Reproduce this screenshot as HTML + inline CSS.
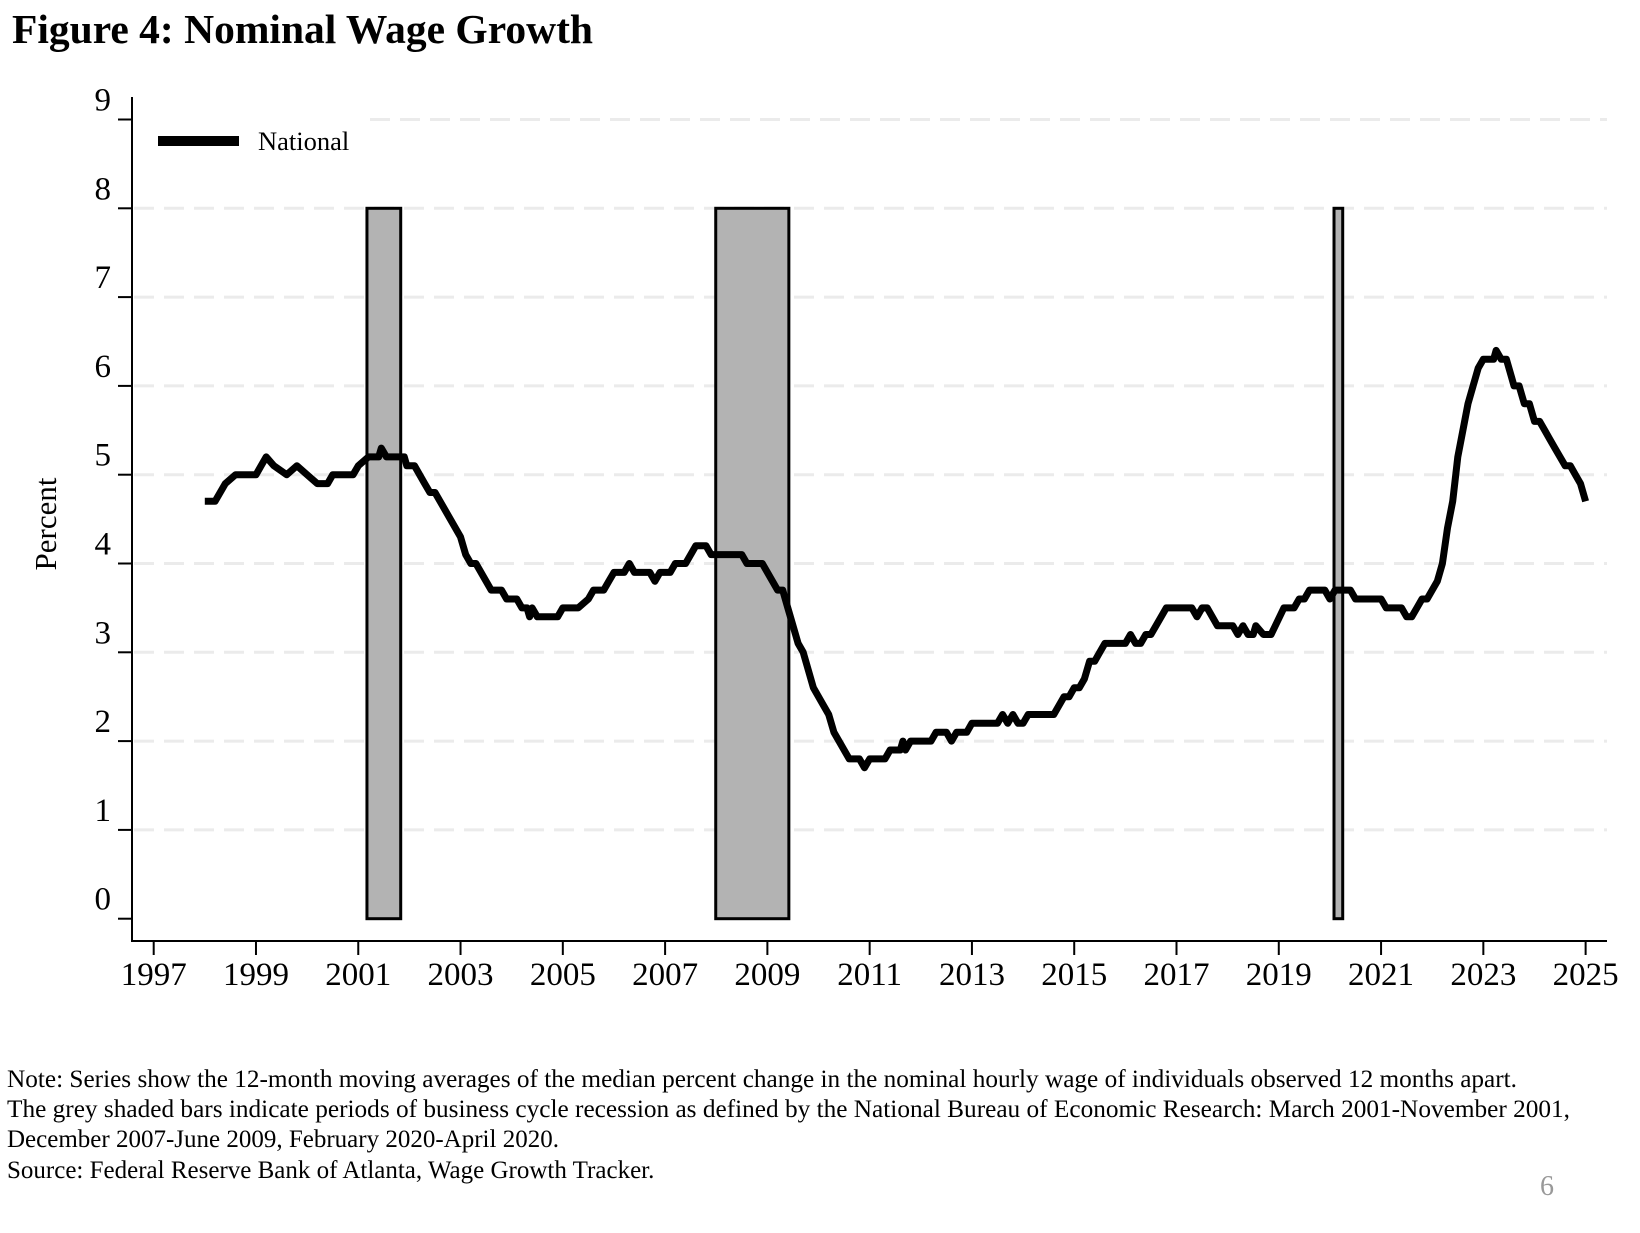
<!DOCTYPE html>
<html><head><meta charset="utf-8"><style>
body{margin:0;background:#fff;width:1640px;height:1228px;overflow:hidden;}
svg text{font-family:"Liberation Serif",serif;}
</style></head><body>
<svg width="1640" height="1228" xmlns="http://www.w3.org/2000/svg">
<text x="12" y="43" font-size="41.5" font-weight="bold">Figure 4: Nominal Wage Growth</text>
<g id="grid"></g>
<g id="bars"></g>
<g id="axes"></g>
<path id="line" fill="none" stroke="#000" stroke-width="7" stroke-linejoin="round"/>
<line x1="158" y1="141" x2="239" y2="141" stroke="#000" stroke-width="10"/>
<text x="258" y="150" font-size="26.5">National</text>
<text transform="translate(56,524) rotate(-90)" text-anchor="middle" font-size="31">Percent</text>
<g font-size="25">
<text x="7" y="1087" textLength="1510" lengthAdjust="spacingAndGlyphs">Note: Series show the 12-month moving averages of the median percent change in the nominal hourly wage of individuals observed 12 months apart.</text>
<text x="7" y="1117" textLength="1563" lengthAdjust="spacingAndGlyphs">The grey shaded bars indicate periods of business cycle recession as defined by the National Bureau of Economic Research: March 2001-November 2001,</text>
<text x="7" y="1147">December 2007-June 2009, February 2020-April 2020.</text>
<text x="7" y="1178">Source: Federal Reserve Bank of Atlanta, Wage Growth Tracker.</text>
</g>
<text x="1540" y="1195" font-size="28" fill="#999">6</text>
</svg>
<script>
const yTicks=[0,1,2,3,4,5,6,7,8,9];
const xTicks=[1997,1999,2001,2003,2005,2007,2009,2011,2013,2015,2017,2019,2021,2023,2025];
const recStart=[2001.17,2007.99,2020.08];
const recEnd=[2001.83,2009.42,2020.25];
const years=[1998.0,1998.2,1998.4,1998.6,1999.0,1999.1,1999.2,1999.35,1999.6,1999.8,2000.0,2000.2,2000.4,2000.5,2000.9,2001.0,2001.2,2001.4,2001.45,2001.55,2001.9,2001.95,2002.1,2002.3,2002.4,2002.5,2002.8,2003.0,2003.1,2003.2,2003.3,2003.5,2003.6,2003.8,2003.9,2004.1,2004.2,2004.3,2004.35,2004.4,2004.5,2004.9,2005.0,2005.3,2005.5,2005.6,2005.8,2005.9,2006.0,2006.2,2006.3,2006.4,2006.7,2006.8,2006.9,2007.1,2007.2,2007.4,2007.5,2007.6,2007.8,2007.9,2008.5,2008.6,2008.9,2009.0,2009.1,2009.2,2009.3,2009.4,2009.5,2009.6,2009.7,2009.9,2010.1,2010.2,2010.3,2010.5,2010.6,2010.8,2010.9,2011.0,2011.3,2011.4,2011.6,2011.65,2011.7,2011.8,2012.2,2012.3,2012.5,2012.6,2012.7,2012.9,2013.0,2013.5,2013.6,2013.7,2013.8,2013.9,2014.0,2014.1,2014.6,2014.8,2014.9,2015.0,2015.1,2015.2,2015.3,2015.4,2015.5,2015.6,2016.0,2016.1,2016.2,2016.3,2016.4,2016.5,2016.6,2016.8,2017.3,2017.4,2017.5,2017.6,2017.8,2018.1,2018.2,2018.3,2018.4,2018.5,2018.55,2018.7,2018.85,2019.1,2019.3,2019.4,2019.5,2019.6,2019.9,2020.0,2020.1,2020.4,2020.5,2020.6,2020.7,2021.0,2021.1,2021.4,2021.5,2021.6,2021.7,2021.8,2021.9,2022.1,2022.2,2022.3,2022.4,2022.5,2022.6,2022.7,2022.8,2022.9,2023.0,2023.2,2023.25,2023.35,2023.45,2023.55,2023.6,2023.7,2023.8,2023.9,2024.0,2024.1,2024.2,2024.3,2024.4,2024.5,2024.6,2024.7,2024.8,2024.9,2025.0];
const values=[4.7,4.7,4.9,5.0,5.0,5.1,5.2,5.1,5.0,5.1,5.0,4.9,4.9,5.0,5.0,5.1,5.2,5.2,5.3,5.2,5.2,5.1,5.1,4.9,4.8,4.8,4.5,4.3,4.1,4.0,4.0,3.8,3.7,3.7,3.6,3.6,3.5,3.5,3.4,3.5,3.4,3.4,3.5,3.5,3.6,3.7,3.7,3.8,3.9,3.9,4.0,3.9,3.9,3.8,3.9,3.9,4.0,4.0,4.1,4.2,4.2,4.1,4.1,4.0,4.0,3.9,3.8,3.7,3.7,3.5,3.3,3.1,3.0,2.6,2.4,2.3,2.1,1.9,1.8,1.8,1.7,1.8,1.8,1.9,1.9,2.0,1.9,2.0,2.0,2.1,2.1,2.0,2.1,2.1,2.2,2.2,2.3,2.2,2.3,2.2,2.2,2.3,2.3,2.5,2.5,2.6,2.6,2.7,2.9,2.9,3.0,3.1,3.1,3.2,3.1,3.1,3.2,3.2,3.3,3.5,3.5,3.4,3.5,3.5,3.3,3.3,3.2,3.3,3.2,3.2,3.3,3.2,3.2,3.5,3.5,3.6,3.6,3.7,3.7,3.6,3.7,3.7,3.6,3.6,3.6,3.6,3.5,3.5,3.4,3.4,3.5,3.6,3.6,3.8,4.0,4.4,4.7,5.2,5.5,5.8,6.0,6.2,6.3,6.3,6.4,6.3,6.3,6.1,6.0,6.0,5.8,5.8,5.6,5.6,5.5,5.4,5.3,5.2,5.1,5.1,5.0,4.9,4.7];
const NS='http://www.w3.org/2000/svg';
const X=y=>153.7+51.14*(y-1997);
const Y=v=>918.7-88.8*v;
function mk(t,a,p){const e=document.createElementNS(NS,t);for(const k in a)e.setAttribute(k,a[k]);p.appendChild(e);return e;}
const grid=document.getElementById('grid'),axes=document.getElementById('axes'),bars=document.getElementById('bars');
yTicks.forEach(v=>{
 if(v>0){const g=mk('line',{x1:v===9?370:134,x2:1607,y1:Y(v),y2:Y(v),stroke:'#ebebeb','stroke-width':3,'stroke-dasharray':'20 10'},grid);
 
 }
 const t=mk('line',{x1:118,x2:132,y1:Y(v),y2:Y(v),stroke:'#000','stroke-width':2},axes);
 
 
 const l=mk('text',{x:111,y:Y(v)-9,'text-anchor':'end','font-size':33},axes);l.textContent=v;
 
 
});
xTicks.forEach(yr=>{
 const t=mk('line',{x1:X(yr),x2:X(yr),y1:941,y2:955,stroke:'#000','stroke-width':2},axes);
 
 
 const l=mk('text',{x:X(yr),y:985,'text-anchor':'middle','font-size':33},axes);l.textContent=yr;
 
 
});
const ya=mk('line',{x1:132,x2:132,y1:97,y2:942,stroke:'#000','stroke-width':2},axes);


const xa=mk('line',{x1:131,x2:1607,y1:941,y2:941,stroke:'#000','stroke-width':2},axes);


recStart.forEach((s,i)=>{
 const r=mk('rect',{x:X(s),y:Y(8),width:X(recEnd[i])-X(s),height:Y(0)-Y(8),fill:'#b3b3b3',stroke:'#000','stroke-width':3},bars);
 
 
});
document.getElementById('line').setAttribute('d',years.map((y,i)=>(i?'L':'M')+X(y).toFixed(1)+' '+Y(values[i]).toFixed(1)).join(' '));
</script>
</body></html>
